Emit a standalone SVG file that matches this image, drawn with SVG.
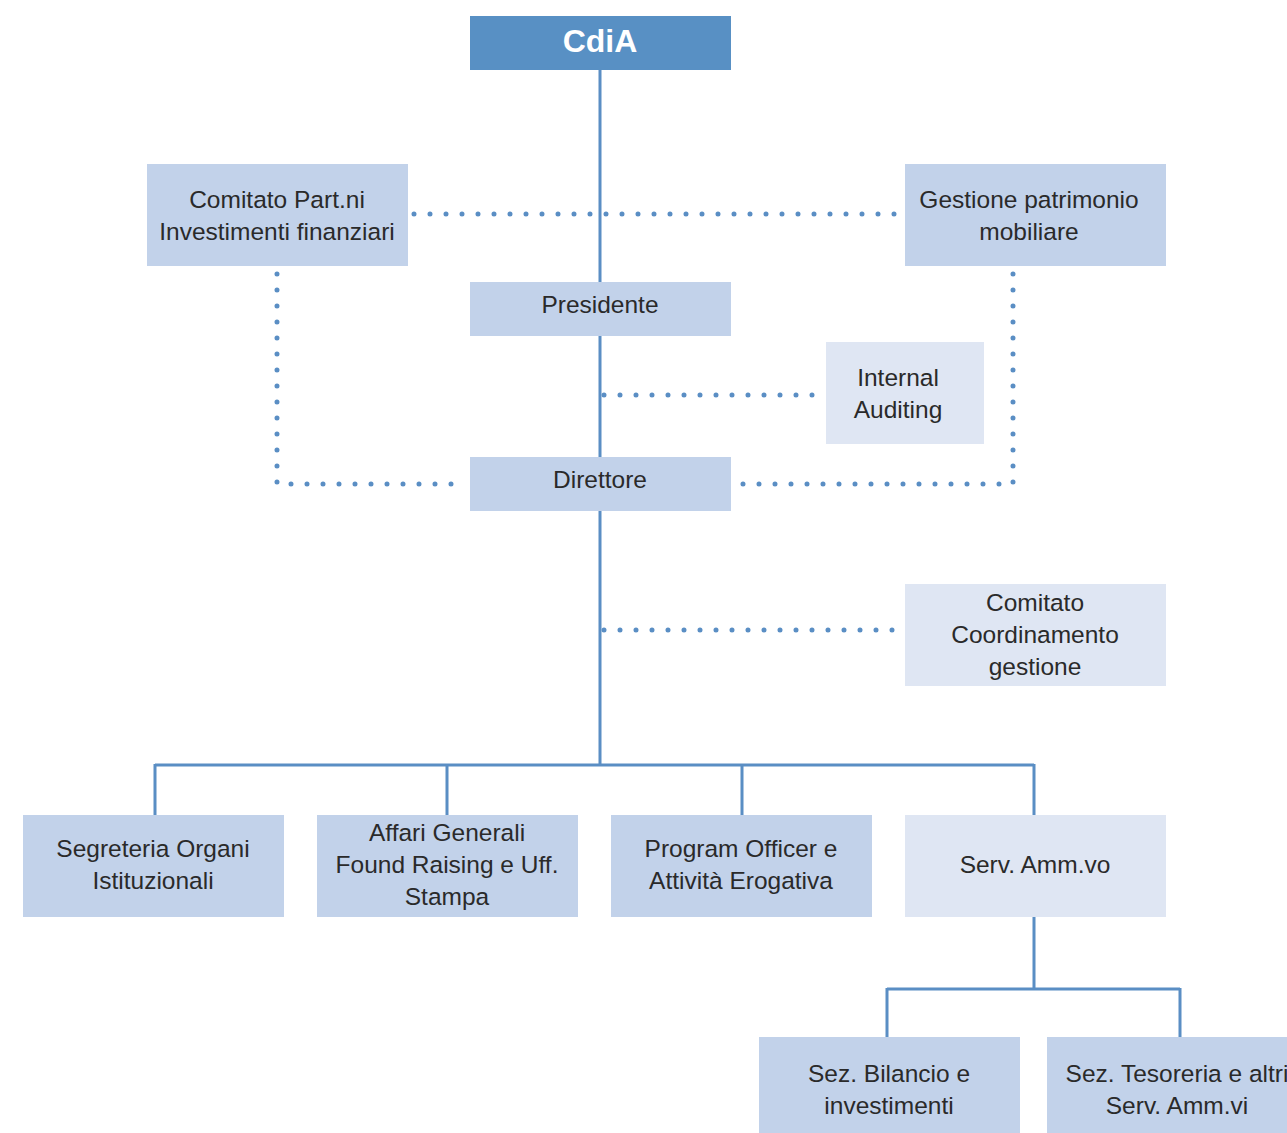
<svg xmlns="http://www.w3.org/2000/svg" width="1287" height="1133" viewBox="0 0 1287 1133">
<style>
.b{fill:#c2d2ea}
.l{fill:#dfe6f3}
.t{font-family:"Liberation Sans",Arial,sans-serif;font-size:24.5px;fill:#2a2a2a;text-anchor:middle}
.ln{stroke:#5a8ec4;stroke-width:3;fill:none}
.dt{stroke:#5a8ec4;stroke-width:5;stroke-linecap:round;stroke-dasharray:0 16;fill:none}
</style>
<rect width="1287" height="1133" fill="#fff"/>
<g id="connectors">
<path class="ln" d="M600 70V282M600 336V457M600 511V765M155 765H1034M155 764V815M447 764V815M742 764V815M1034 764V815M1034 917V989M887 989H1180M887 988V1037M1180 988V1037"/>
<path class="dt" d="M414 214H900M277 274V484H460M1013 274V484H735M604 395H820M604 630H900"/>
</g>
<g id="cdia"><rect x="470" y="16" width="261" height="54" fill="#5890c4"/><text x="600" y="52" style="font-family:'Liberation Sans',Arial,sans-serif;font-size:32px;font-weight:bold;fill:#fff;text-anchor:middle">CdiA</text></g>
<g id="comitato-part"><rect class="b" x="147" y="164" width="261" height="102"/><text class="t" x="277" y="208">Comitato Part.ni</text><text class="t" x="277" y="240">Investimenti finanziari</text></g>
<g id="gestione"><rect class="b" x="905" y="164" width="261" height="102"/><text class="t" x="1029" y="208">Gestione patrimonio</text><text class="t" x="1029" y="240">mobiliare</text></g>
<g id="presidente"><rect class="b" x="470" y="282" width="261" height="54"/><text class="t" x="600" y="313">Presidente</text></g>
<g id="internal"><rect class="l" x="826" y="342" width="158" height="102"/><text class="t" x="898" y="386">Internal</text><text class="t" x="898" y="418">Auditing</text></g>
<g id="direttore"><rect class="b" x="470" y="457" width="261" height="54"/><text class="t" x="600" y="488">Direttore</text></g>
<g id="comitato-coord"><rect class="l" x="905" y="584" width="261" height="102"/><text class="t" x="1035" y="611">Comitato</text><text class="t" x="1035" y="643">Coordinamento</text><text class="t" x="1035" y="675">gestione</text></g>
<g id="segreteria"><rect class="b" x="23" y="815" width="261" height="102"/><text class="t" x="153" y="857">Segreteria Organi</text><text class="t" x="153" y="889">Istituzionali</text></g>
<g id="affari"><rect class="b" x="317" y="815" width="261" height="102"/><text class="t" x="447" y="841">Affari Generali</text><text class="t" x="447" y="873">Found Raising e Uff.</text><text class="t" x="447" y="905">Stampa</text></g>
<g id="program"><rect class="b" x="611" y="815" width="261" height="102"/><text class="t" x="741" y="857">Program Officer e</text><text class="t" x="741" y="889">Attività Erogativa</text></g>
<g id="serv"><rect class="l" x="905" y="815" width="261" height="102"/><text class="t" x="1035" y="873">Serv. Amm.vo</text></g>
<g id="bilancio"><rect class="b" x="759" y="1037" width="261" height="96"/><text class="t" x="889" y="1082">Sez. Bilancio e</text><text class="t" x="889" y="1114">investimenti</text></g>
<g id="tesoreria"><rect class="b" x="1047" y="1037" width="261" height="96"/><text class="t" x="1177" y="1082">Sez. Tesoreria e altri</text><text class="t" x="1177" y="1114">Serv. Amm.vi</text></g>
</svg>
